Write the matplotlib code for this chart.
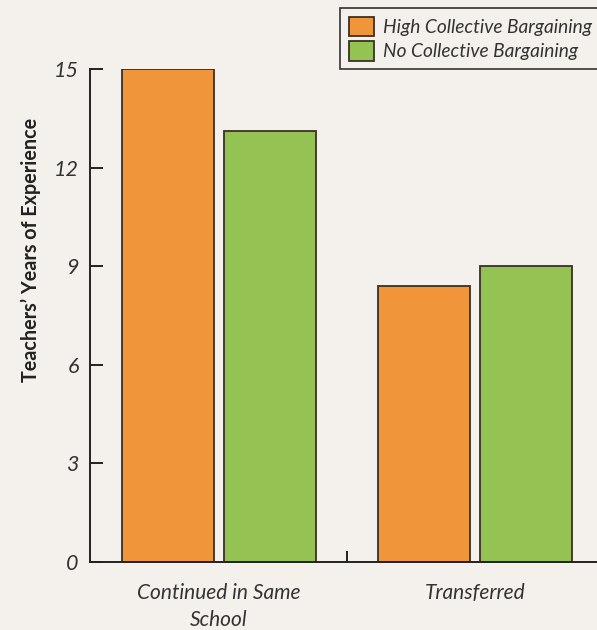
import matplotlib.pyplot as plt
import numpy as np

plt.rcParams['font.family'] = ['Lato', 'DejaVu Sans']

# Data
categories = ["Continued in Same\nSchool", "Transferred"]
high_cb = [15.0, 8.4]
no_cb = [13.1, 9.0]
series_names = ["High Collective Bargaining", "No Collective Bargaining"]
y_ticks = [0, 3, 6, 9, 12, 15]

paper = "#f4f1ec"
orange = "#f0953a"
green = "#95c353"
edge = "#3a3025"

fig = plt.figure(figsize=(5.97, 6.30), dpi=100, facecolor=paper)
ax = fig.add_axes([90 / 597, 1 - 562 / 630, 1 - 90 / 597, (562 - 69) / 630])
ax.set_facecolor(paper)

x = np.arange(len(categories))
w = 0.36
b1 = ax.bar(x - 0.2, high_cb, w, color=orange, edgecolor=edge, linewidth=1.3,
            label=series_names[0])
b2 = ax.bar(x + 0.2, no_cb, w, color=green, edgecolor=edge, linewidth=1.3,
            label=series_names[1])

ax.set_ylim(0, 15)
ax.set_xlim(-0.504, 1.477)
ax.set_yticks(y_ticks)
ax.set_yticklabels([str(t) for t in y_ticks], fontstyle='italic', fontsize=15.5,
                   color="#333333")
ax.tick_params(axis='y', direction='in', length=9, width=1.4, pad=8, color="#222222")

# single divider tick between the two groups
ax.set_xticks([0.5])
ax.set_xticklabels([""])
ax.tick_params(axis='x', direction='in', length=8, width=1.4, color="#222222")
for xi, lab in zip(x, categories):
    ax.text(xi, -0.65, lab, ha='center', va='top', fontstyle='italic', fontsize=15,
            color="#333333", linespacing=1.4)

for side in ['top', 'right']:
    ax.spines[side].set_visible(False)
for side in ['left', 'bottom']:
    ax.spines[side].set_linewidth(1.4)
    ax.spines[side].set_color("#222222")

fig.text(31 / 597, 1 - 250 / 630, "Teachers\u2019 Years of Experience", rotation=90,
         ha='center', va='center', fontsize=14.2, fontweight='bold', color="#222222")

leg = fig.legend(handles=[b1, b2], loc='upper left',
                 bbox_to_anchor=(340 / 597, 1 - 8 / 630), bbox_transform=fig.transFigure,
                 fancybox=False, framealpha=1, facecolor=paper, edgecolor="#333333",
                 prop={'style': 'italic', 'size': 13.8}, handlelength=1.3, handleheight=1.2,
                 handletextpad=0.5, labelspacing=0.25, borderpad=0.45, borderaxespad=0)
leg.get_frame().set_linewidth(1.2)
for t in leg.get_texts():
    t.set_color("#333333")

fig.savefig("out.png", dpi=100, facecolor=paper)
